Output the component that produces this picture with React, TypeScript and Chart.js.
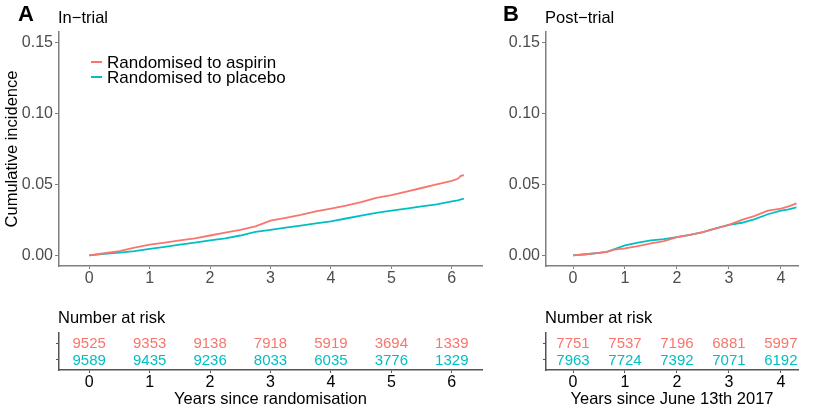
import React, { useEffect, useRef } from "react";
import { Chart, registerables } from "chart.js";

Chart.register(...registerables);

const FONT = "'Liberation Sans', Arial, Helvetica, sans-serif";
const RED = "#F8766D";
const CYAN = "#00BFC4";

// ---------- data ----------
const groups = ["Randomised to aspirin", "Randomised to placebo"];
const yTickValues = [0, 0.05, 0.1, 0.15];

// Panel A: in-trial
const trialTimes = [0, 0.25, 0.5, 0.75, 1, 1.25, 1.5, 1.75, 2, 2.25, 2.5, 2.75, 3, 3.25, 3.5, 3.75, 4, 4.25, 4.5, 4.75, 5, 5.25, 5.5, 5.75, 6, 6.1, 6.15, 6.2];
const trialAspirin = [0, 0.0015, 0.003, 0.0055, 0.0075, 0.009, 0.0105, 0.012, 0.014, 0.016, 0.018, 0.0205, 0.0245, 0.0265, 0.0285, 0.031, 0.033, 0.035, 0.0375, 0.0405, 0.0425, 0.045, 0.0475, 0.05, 0.0525, 0.054, 0.056, 0.0565];
const trialPlacebo = [0, 0.001, 0.002, 0.003, 0.0045, 0.006, 0.0075, 0.009, 0.0105, 0.012, 0.014, 0.0165, 0.018, 0.0195, 0.021, 0.0225, 0.024, 0.026, 0.028, 0.03, 0.0315, 0.033, 0.0345, 0.036, 0.038, 0.0388, 0.0395, 0.04];
const trialXTicks = [0, 1, 2, 3, 4, 5, 6];
const trialRiskTimes = [0, 1, 2, 3, 4, 5, 6];
const trialRiskAspirin = [9525, 9353, 9138, 7918, 5919, 3694, 1339];
const trialRiskPlacebo = [9589, 9435, 9236, 8033, 6035, 3776, 1329];

// Panel B: post-trial
const postTimes = [0, 0.25, 0.5, 0.65, 0.8, 1, 1.25, 1.5, 1.75, 2, 2.25, 2.5, 2.75, 3, 3.25, 3.5, 3.75, 4, 4.15, 4.3];
const postAspirin = [0, 0.0008, 0.0018, 0.0025, 0.004, 0.005, 0.0065, 0.0085, 0.01, 0.0128, 0.0145, 0.0164, 0.019, 0.0215, 0.025, 0.0278, 0.0315, 0.033, 0.0345, 0.0367];
const postPlacebo = [0, 0.0008, 0.0018, 0.0025, 0.0045, 0.007, 0.009, 0.0105, 0.0115, 0.0128, 0.0145, 0.0164, 0.019, 0.0215, 0.023, 0.0255, 0.029, 0.0315, 0.0325, 0.0339];
const postXTicks = [0, 1, 2, 3, 4];
const postRiskTimes = [0, 1, 2, 3, 4];
const postRiskAspirin = [7751, 7537, 7196, 6881, 5997];
const postRiskPlacebo = [7963, 7724, 7392, 7071, 6192];

// ---------- helpers ----------
type Area = { w: number; h: number; left: number; top: number; right: number; bottom: number };

function font(size: number, weight: string = "normal") {
  return `${weight} ${size}px ${FONT}`;
}

type CurveOpts = {
  times: number[];
  asp: number[];
  pla: number[];
  xMin: number;
  xMax: number;
  xTicks: number[];
  area: Area;
  letter: string;
  subtitle: string;
  legend: boolean;
  yTitle: boolean;
};

function curveConfig(o: CurveOpts): any {
  const axisColor = "#7f7f7f";
  const decor = {
    id: "decor",
    afterDraw(chart: any) {
      const ctx = chart.ctx;
      ctx.save();
      ctx.fillStyle = "#000";
      ctx.textBaseline = "alphabetic";
      ctx.textAlign = "left";
      ctx.font = font(22, "bold");
      ctx.fillText(o.letter, o.area.left - 55 < 0 ? 3 : o.area.left - 41, 21);
      ctx.font = font(16.5);
      ctx.fillText(o.subtitle, o.area.left - 1, 23);
      if (o.legend) {
        chart.data.datasets.forEach((ds: any, i: number) => {
          const y = 62 + i * 15;
          ctx.strokeStyle = ds.borderColor;
          ctx.lineWidth = 2;
          ctx.beginPath();
          ctx.moveTo(91, y);
          ctx.lineTo(102, y);
          ctx.stroke();
          ctx.fillStyle = "#000";
          ctx.textBaseline = "middle";
          ctx.font = font(17);
          ctx.fillText(ds.label, 107, y + 1);
        });
      }
      if (o.yTitle) {
        const ca = chart.chartArea;
        ctx.translate(12, (ca.top + ca.bottom) / 2);
        ctx.rotate(-Math.PI / 2);
        ctx.textAlign = "center";
        ctx.textBaseline = "middle";
        ctx.fillStyle = "#000";
        ctx.font = font(16.5);
        ctx.fillText("Cumulative incidence", 0, 0);
      }
      ctx.restore();
    },
  };
  return {
    type: "line",
    data: {
      datasets: [
        {
          label: groups[0],
          data: o.times.map((t, i) => ({ x: t, y: o.asp[i] })),
          borderColor: RED,
          borderWidth: 1.8,
          pointRadius: 0,
          tension: 0,
          fill: false,
        },
        {
          label: groups[1],
          data: o.times.map((t, i) => ({ x: t, y: o.pla[i] })),
          borderColor: CYAN,
          borderWidth: 1.8,
          pointRadius: 0,
          tension: 0,
          fill: false,
        },
      ],
    },
    options: {
      animation: false,
      responsive: false,
      layout: { padding: { left: 0, top: o.area.top, right: o.area.w - o.area.right, bottom: 0 } },
      plugins: { legend: { display: false }, tooltip: { enabled: false }, title: { display: false } },
      scales: {
        x: {
          type: "linear",
          min: o.xMin,
          max: o.xMax,
          afterBuildTicks: (s: any) => {
            s.ticks = o.xTicks.map((v) => ({ value: v }));
          },
          afterFit: (s: any) => {
            s.height = o.area.h - o.area.bottom;
          },
          ticks: { color: "#4d4d4d", font: { size: 16, family: FONT }, padding: 0, callback: (v: any) => String(v), maxRotation: 0 },
          grid: { display: true, drawOnChartArea: false, drawTicks: true, tickLength: 3, color: axisColor, lineWidth: 1 },
          border: { display: true, color: axisColor, width: 1.5 },
        },
        y: {
          type: "linear",
          min: -0.0075,
          max: 0.1575,
          afterBuildTicks: (s: any) => {
            s.ticks = yTickValues.map((v) => ({ value: v }));
          },
          afterFit: (s: any) => {
            s.width = o.area.left;
          },
          ticks: { color: "#4d4d4d", font: { size: 16, family: FONT }, padding: 2, callback: (v: any) => Number(v).toFixed(2) },
          grid: { display: true, drawOnChartArea: false, drawTicks: true, tickLength: 4, color: axisColor, lineWidth: 1 },
          border: { display: true, color: axisColor, width: 1.5 },
        },
      },
    },
    plugins: [decor],
  };
}

type RiskOpts = {
  times: number[];
  asp: number[];
  pla: number[];
  xMin: number;
  xMax: number;
  xTicks: number[];
  area: Area;
  xTitle: string;
};

function riskConfig(o: RiskOpts): any {
  const axisColor = "#555555";
  const decor = {
    id: "riskDecor",
    afterDraw(chart: any) {
      const ctx = chart.ctx;
      const xs = chart.scales.x;
      const ys = chart.scales.y;
      const ca = chart.chartArea;
      ctx.save();
      ctx.fillStyle = "#000";
      ctx.font = font(16.5);
      ctx.textAlign = "left";
      ctx.textBaseline = "alphabetic";
      ctx.fillText("Number at risk", o.area.left - 1, 33);
      ctx.font = font(15);
      ctx.textAlign = "center";
      ctx.textBaseline = "middle";
      const rows: [number[], string, number][] = [
        [o.asp, RED, 2],
        [o.pla, CYAN, 1],
      ];
      rows.forEach(([vals, color, row]) => {
        ctx.fillStyle = color;
        vals.forEach((v, i) => {
          ctx.fillText(String(v), xs.getPixelForValue(o.times[i]), ys.getPixelForValue(row) + 1);
        });
      });
      ctx.fillStyle = "#000";
      ctx.font = font(16.5);
      ctx.fillText(o.xTitle, (ca.left + ca.right) / 2, 109);
      ctx.restore();
    },
  };
  return {
    type: "line",
    data: {
      datasets: [
        {
          label: groups[0],
          data: o.times.map((t) => ({ x: t, y: 2 })),
          showLine: false,
          pointRadius: 0,
        },
        {
          label: groups[1],
          data: o.times.map((t) => ({ x: t, y: 1 })),
          showLine: false,
          pointRadius: 0,
        },
      ],
    },
    options: {
      animation: false,
      responsive: false,
      layout: { padding: { left: 0, top: o.area.top, right: o.area.w - o.area.right, bottom: 0 } },
      plugins: { legend: { display: false }, tooltip: { enabled: false }, title: { display: false } },
      scales: {
        x: {
          type: "linear",
          min: o.xMin,
          max: o.xMax,
          afterBuildTicks: (s: any) => {
            s.ticks = o.xTicks.map((v) => ({ value: v }));
          },
          afterFit: (s: any) => {
            s.height = o.area.h - o.area.bottom;
          },
          ticks: { color: "#000", font: { size: 16, family: FONT }, padding: 0, callback: (v: any) => String(v), maxRotation: 0 },
          grid: { display: true, drawOnChartArea: false, drawTicks: true, tickLength: 3, color: axisColor, lineWidth: 1 },
          border: { display: true, color: axisColor, width: 1.5 },
        },
        y: {
          type: "linear",
          min: 0.4,
          max: 2.6,
          afterBuildTicks: (s: any) => {
            s.ticks = [1, 2].map((v) => ({ value: v }));
          },
          afterFit: (s: any) => {
            s.width = o.area.left;
          },
          ticks: { font: { size: 10, family: FONT }, padding: 0, callback: () => "" },
          grid: { display: true, drawOnChartArea: false, drawTicks: true, tickLength: 3, color: axisColor, lineWidth: 1 },
          border: { display: true, color: axisColor, width: 1.5 },
        },
      },
    },
    plugins: [decor],
  };
}

function ChartBox({ x, y, w, h, build }: { x: number; y: number; w: number; h: number; build: () => any }) {
  const ref = useRef<HTMLCanvasElement>(null);
  useEffect(() => {
    const chart = new Chart(ref.current as HTMLCanvasElement, build());
    return () => chart.destroy();
  }, []);
  return (
    <canvas
      ref={ref}
      width={w}
      height={h}
      style={{ position: "absolute", left: x, top: y, width: w, height: h }}
    />
  );
}

const areaATop: Area = { w: 500, h: 290, left: 59, top: 32, right: 482, bottom: 266 };
const areaBTop: Area = { w: 313, h: 290, left: 46, top: 32, right: 298, bottom: 266 };
const areaARisk: Area = { w: 500, h: 124, left: 59, top: 43, right: 482, bottom: 80 };
const areaBRisk: Area = { w: 313, h: 124, left: 46, top: 43, right: 298, bottom: 80 };

export default function App() {
  return (
    <div style={{ position: "absolute", left: 0, top: 0, width: 813, height: 414, background: "#fff", overflow: "hidden" }}>
      <ChartBox
        x={0}
        y={0}
        w={500}
        h={290}
        build={() =>
          curveConfig({
            times: trialTimes,
            asp: trialAspirin,
            pla: trialPlacebo,
            xMin: -0.5,
            xMax: 6.5,
            xTicks: trialXTicks,
            area: areaATop,
            letter: "A",
            subtitle: "In\u2212trial",
            legend: true,
            yTitle: true,
          })
        }
      />
      <ChartBox
        x={500}
        y={0}
        w={313}
        h={290}
        build={() =>
          curveConfig({
            times: postTimes,
            asp: postAspirin,
            pla: postPlacebo,
            xMin: -0.52,
            xMax: 4.33,
            xTicks: postXTicks,
            area: areaBTop,
            letter: "B",
            subtitle: "Post\u2212trial",
            legend: false,
            yTitle: false,
          })
        }
      />
      <ChartBox
        x={0}
        y={290}
        w={500}
        h={124}
        build={() =>
          riskConfig({
            times: trialRiskTimes,
            asp: trialRiskAspirin,
            pla: trialRiskPlacebo,
            xMin: -0.5,
            xMax: 6.5,
            xTicks: trialXTicks,
            area: areaARisk,
            xTitle: "Years since randomisation",
          })
        }
      />
      <ChartBox
        x={500}
        y={290}
        w={313}
        h={124}
        build={() =>
          riskConfig({
            times: postRiskTimes,
            asp: postRiskAspirin,
            pla: postRiskPlacebo,
            xMin: -0.52,
            xMax: 4.33,
            xTicks: postXTicks,
            area: areaBRisk,
            xTitle: "Years since June 13th 2017",
          })
        }
      />
    </div>
  );
}
